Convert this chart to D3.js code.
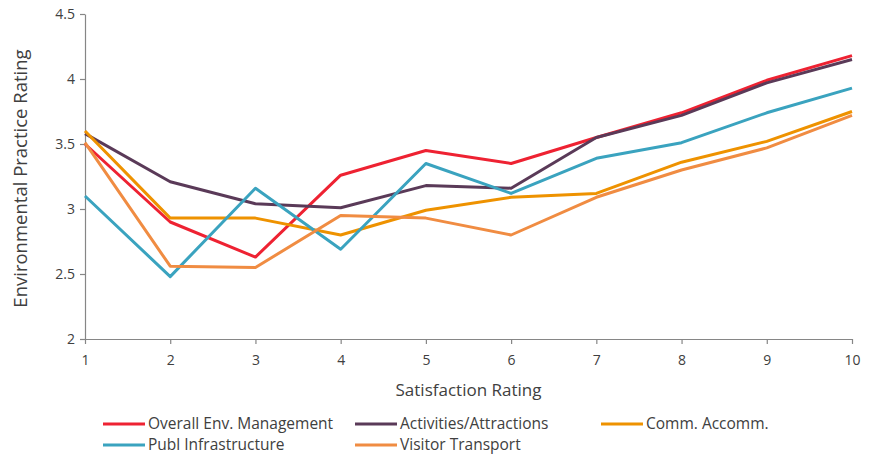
<!DOCTYPE html>
<html>
<head>
<meta charset="utf-8">
<script src="https://cdn.jsdelivr.net/npm/d3@7"></script>
<style>
  body { margin: 0; background: #fff; }
  text { font-family: "Open Sans", sans-serif; fill: #404040; }
</style>
</head>
<body>
<div class="chart"></div>
<script>
// Data.
const ratings = [1, 2, 3, 4, 5, 6, 7, 8, 9, 10];
const overallEnv = [3.50, 2.90, 2.63, 3.26, 3.45, 3.35, 3.55, 3.74, 3.99, 4.18];
const activities = [3.58, 3.21, 3.04, 3.01, 3.18, 3.16, 3.55, 3.72, 3.97, 4.15];
const commAccomm = [3.60, 2.93, 2.93, 2.80, 2.99, 3.09, 3.12, 3.36, 3.52, 3.75];
const publInfra = [3.10, 2.48, 3.16, 2.69, 3.35, 3.12, 3.39, 3.51, 3.74, 3.93];
const visitorTransport = [3.51, 2.56, 2.55, 2.95, 2.93, 2.80, 3.09, 3.30, 3.47, 3.72];
const yTicks = [2, 2.5, 3, 3.5, 4, 4.5];

const series = [
    {name: 'Overall Env. Management', values: overallEnv, color: '#ee2232'},
    {name: 'Activities/Attractions', values: activities, color: '#5a3a58'},
    {name: 'Comm. Accomm.', values: commAccomm, color: '#ee9200'},
    {name: 'Publ Infrastructure', values: publInfra, color: '#3aa3bf'},
    {name: 'Visitor Transport', values: visitorTransport, color: '#f08c42'}
];

const width = 869;
const height = 457;
const plot = {left: 85, right: 852, top: 14, bottom: 339};

const svg = d3.select('.chart')
    .append('svg')
    .attr('width', width)
    .attr('height', height);

const x = d3.scaleLinear()
    .domain([1, 10])
    .range([plot.left, plot.right]);

const y = d3.scaleLinear()
    .domain([2, 4.5])
    .range([plot.bottom, plot.top]);

// Axes
const axisX = d3.axisBottom(x)
    .tickValues(ratings)
    .tickFormat(d3.format('d'))
    .tickSize(5)
    .tickPadding(11)
    .tickSizeOuter(0);

const axisY = d3.axisLeft(y)
    .tickValues(yTicks)
    .tickFormat(d => d)
    .tickSize(5)
    .tickPadding(5)
    .tickSizeOuter(0);

const gx = svg.append('g')
    .attr('transform', `translate(0, ${plot.bottom})`)
    .call(axisX);

const gy = svg.append('g')
    .attr('transform', `translate(${plot.left}, 0)`)
    .call(axisY);

[gx, gy].forEach(g => {
    g.select('.domain').attr('stroke', '#868686').attr('stroke-width', 1.2);
    g.selectAll('.tick line').attr('stroke', '#868686').attr('stroke-width', 1.2);
    g.selectAll('.tick text')
        .style('font-family', '"Open Sans", sans-serif')
        .style('font-size', '14px')
        .attr('fill', '#404040');
});

// Axis titles
svg.append('text')
    .attr('x', (plot.left + plot.right) / 2)
    .attr('y', 396)
    .attr('text-anchor', 'middle')
    .style('font-size', '17px')
    .text('Satisfaction Rating');

svg.append('text')
    .attr('transform', `translate(27, ${(plot.top + plot.bottom) / 2 + 2}) rotate(-90)`)
    .attr('text-anchor', 'middle')
    .style('font-size', '18.5px')
    .text('Environmental Practice Rating');

// Lines
const line = d3.line()
    .x((d, i) => x(ratings[i]))
    .y(d => y(d));

svg.append('g')
    .selectAll('path')
    .data(series)
    .enter()
    .append('path')
    .attr('d', d => line(d.values))
    .attr('fill', 'none')
    .attr('stroke', d => d.color)
    .attr('stroke-width', 3)
    .attr('stroke-linejoin', 'round');

// Legend
const legendPos = [
    {x: 103, y: 424}, {x: 355, y: 424}, {x: 601, y: 424},
    {x: 103, y: 445}, {x: 355, y: 445}
];

const legend = svg.append('g')
    .selectAll('g')
    .data(series)
    .enter()
    .append('g')
    .attr('transform', (d, i) => `translate(${legendPos[i].x}, ${legendPos[i].y})`);

legend.append('line')
    .attr('x1', 0)
    .attr('x2', 42)
    .attr('stroke', d => d.color)
    .attr('stroke-width', 3);

legend.append('text')
    .attr('x', 45)
    .attr('dy', '0.35em')
    .style('font-size', '15.5px')
    .text(d => d.name);
</script>
</body>
</html>
